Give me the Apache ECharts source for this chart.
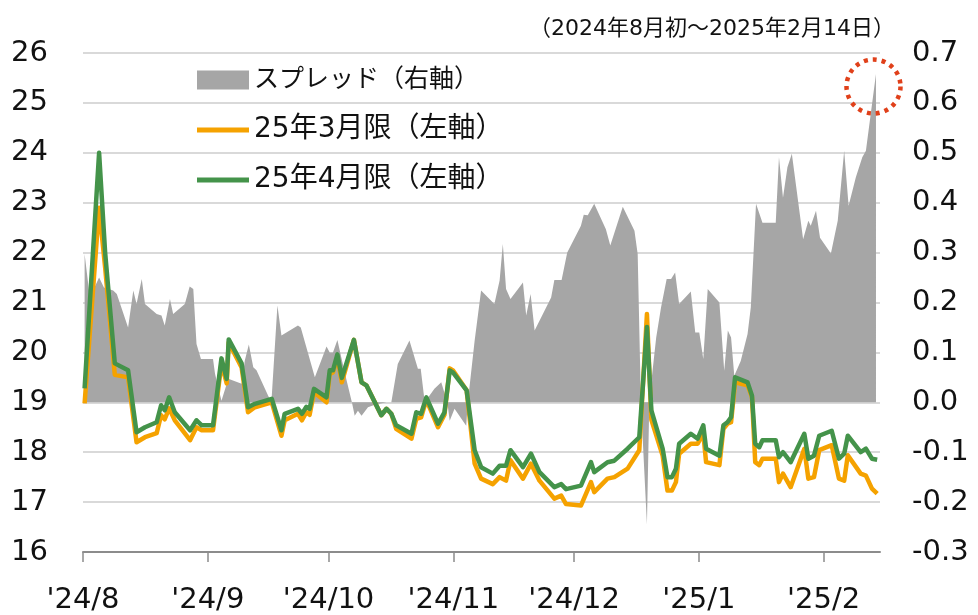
<!DOCTYPE html>
<html>
<head>
<meta charset="utf-8">
<script src="https://cdn.jsdelivr.net/npm/echarts@6/dist/echarts.min.js"></script>
<style>
  html, body { margin: 0; padding: 0; background: #fff; }
  #chart { width: 978px; height: 615px; }
</style>
</head>
<body>
<div id="chart"></div>
<script>
// x values are days counted from 2024-08-01
const monthDays = [0, 31, 61, 92, 122, 153, 184];
const monthLabels = ["'24/8", "'24/9", "'24/10", "'24/11", "'24/12", "'25/1", "'25/2"];

const lineDays = [
  0.4, 4.0, 5.5, 7.9, 11.2, 13.3, 15.4, 18.3, 19.4, 20.3, 21.4, 22.8, 26.6, 28.2, 29.5, 32.3,
  34.4, 35.7, 36.2, 39.4, 41.0, 42.7, 46.9, 49.3, 50.1, 53.4, 54.4, 55.5, 56.3, 57.4, 60.5, 61.3,
  62.1, 63.2, 64.3, 67.3, 69.2, 70.4, 74.1, 75.4, 76.6, 77.8, 81.6, 82.8, 84.0, 85.3, 88.2, 89.8,
  91.1, 91.9, 95.3, 97.3, 98.9, 101.8, 103.5, 105.1, 106.2, 109.3, 111.3, 113.4, 117.1, 118.8, 120.0, 123.7,
  126.2, 127.0, 130.3, 132.0, 135.3, 138.2, 140.1, 141.2, 144.0, 145.2, 146.3, 147.3, 148.1, 151.0, 152.7, 154.1,
  154.8, 158.1, 159.1, 160.1, 161.0, 162.0, 165.1, 166.2, 167.0, 168.0, 168.8, 172.1, 172.9, 173.9, 175.8, 179.2,
  180.2, 181.6, 182.9, 186.0, 187.8, 189.1, 190.0, 193.2, 194.5, 196.0, 197.3
];
const mar25 = [
  18.98, 22.9, 21.7, 19.55, 19.5, 18.2, 18.3, 18.38, 18.74, 18.66, 18.88, 18.64, 18.24, 18.5, 18.44, 18.44,
  19.78, 19.38, 20.2, 19.7, 18.8, 18.9, 19.0, 18.33, 18.64, 18.77, 18.64, 18.8, 18.75, 19.2, 19.0, 19.57,
  19.6, 19.9, 19.4, 20.25, 19.4, 19.34, 18.74, 18.87, 18.77, 18.47, 18.27, 18.67, 18.7, 19.05, 18.5, 18.75,
  19.68, 19.64, 19.24, 17.77, 17.47, 17.36, 17.5, 17.43, 17.84, 17.47, 17.77, 17.43, 17.07, 17.13, 16.96, 16.93,
  17.4, 17.2, 17.47, 17.5, 17.67, 18.04, 20.77, 18.65, 17.93, 17.23, 17.23, 17.4, 17.97, 18.17, 18.17, 18.37,
  17.8, 17.74, 18.47, 18.57, 18.6, 19.4, 19.34, 19.1, 17.8, 17.74, 17.87, 17.87, 17.4, 17.57, 17.3, 18.07,
  17.47, 17.5, 18.04, 18.14, 17.47, 17.43, 17.94, 17.57, 17.53, 17.27, 17.17
];
const apr25 = [
  19.28, 24.0, 22.0, 19.78, 19.64, 18.4, 18.5, 18.6, 18.94, 18.84, 19.1, 18.8, 18.44, 18.64, 18.54, 18.54,
  19.88, 19.47, 20.26, 19.78, 18.9, 18.97, 19.07, 18.44, 18.77, 18.87, 18.77, 18.91, 18.87, 19.27, 19.1, 19.64,
  19.64, 19.96, 19.49, 20.25, 19.4, 19.34, 18.74, 18.87, 18.77, 18.54, 18.37, 18.8, 18.77, 19.1, 18.57, 18.8,
  19.64, 19.6, 19.24, 18.04, 17.7, 17.57, 17.73, 17.73, 18.04, 17.7, 17.97, 17.6, 17.3, 17.36, 17.26, 17.33,
  17.8, 17.6, 17.8, 17.83, 18.07, 18.3, 20.51, 18.84, 18.07, 17.5, 17.5, 17.67, 18.17, 18.37, 18.27, 18.54,
  18.07, 17.93, 18.54, 18.6, 18.7, 19.5, 19.4, 19.13, 18.17, 18.1, 18.24, 18.24, 17.9, 18.0, 17.8, 18.37,
  17.87, 17.93, 18.33, 18.43, 17.87, 17.97, 18.33, 18.0, 18.07, 17.87, 17.85
];

const spreadDays = [
  0.4, 1.7, 4.0, 5.2, 7.5, 8.4, 11.2, 12.5, 13.3, 14.6, 15.4, 18.3, 19.5, 20.3, 21.6, 22.4,
  25.3, 26.5, 27.4, 28.2, 29.3, 32.3, 32.8, 34.4, 36.1, 39.4, 40.2, 41.2, 42.3, 43.1, 46.0, 46.8,
  48.3, 49.3, 53.4, 54.1, 57.6, 60.5, 61.3, 62.1, 63.2, 65.0, 66.8, 67.5, 68.3, 69.2, 70.8, 72.5,
  75.4, 76.6, 78.2, 81.1, 83.2, 83.9, 84.9, 87.3, 89.0, 90.5, 91.1, 92.3, 95.2, 95.6, 97.3, 98.9,
  102.2, 103.5, 104.3, 105.1, 106.2, 109.3, 110.1, 111.2, 112.2, 116.3, 117.1, 118.9, 120.3, 123.7, 124.4, 125.4,
  127.0, 129.9, 131.0, 134.1, 137.0, 137.8, 138.6, 140.1, 140.7, 142.4, 143.6, 145.0, 146.1, 147.1, 148.1, 151.0,
  152.1, 153.1, 154.1, 155.2, 158.1, 159.3, 160.2, 161.0, 161.8, 163.4, 165.1, 165.9, 167.2, 168.8, 172.1, 172.9,
  173.9, 175.0, 176.1, 178.9, 180.2, 180.8, 182.1, 183.1, 185.8, 187.5, 189.1, 190.2, 192.0, 193.6, 194.5, 197.0
];
const spread = [
  0.297, 0.21, 0.25, 0.23, 0.224, 0.217, 0.15, 0.224, 0.197, 0.247, 0.197, 0.177, 0.174, 0.154, 0.207, 0.177,
  0.197, 0.232, 0.227, 0.117, 0.087, 0.087, 0.057, 0.003, 0.047, 0.037, 0.084, 0.116, 0.07, 0.064, 0.013, 0.0,
  0.194, 0.134, 0.154, 0.15, 0.05, 0.112, 0.1, 0.1, 0.125, 0.06, 0.0, -0.027, -0.017, -0.027, -0.01, -0.005,
  0.0, 0.0, 0.077, 0.124, 0.067, 0.067, 0.0, 0.027, 0.04, 0.0, -0.037, -0.013, -0.047, 0.0, 0.124, 0.224,
  0.197, 0.244, 0.317, 0.227, 0.207, 0.24, 0.174, 0.217, 0.144, 0.21, 0.245, 0.245, 0.3, 0.354, 0.376, 0.375,
  0.398, 0.347, 0.314, 0.392, 0.344, 0.297, 0.0, -0.245, 0.005, 0.13, 0.19, 0.247, 0.247, 0.26, 0.197, 0.222,
  0.14, 0.14, 0.087, 0.227, 0.2, 0.063, 0.144, 0.13, 0.053, 0.083, 0.137, 0.19, 0.398, 0.36, 0.36, 0.491,
  0.41, 0.471, 0.498, 0.327, 0.364, 0.354, 0.384, 0.33, 0.298, 0.364, 0.504, 0.394, 0.451, 0.491, 0.504, 0.658
];

const chart = echarts.init(document.getElementById('chart'));

const pairs = (xs, ys) => xs.map((x, i) => [x, ys[i]]);
const labelFont = {fontSize: 29, color: '#111', fontFamily: 'DejaVu Sans'};
const mixFont = "'DejaVu Sans', 'Noto Sans CJK JP'";
const lineIcon = 'path://M0,0H52V5H0Z';

chart.setOption({
  animation: false,
  title: {
    text: '（2024年8月初～2025年2月14日）',
    right: 78,
    top: 13,
    textStyle: {fontSize: 22, fontWeight: 'normal', color: '#111', fontFamily: mixFont}
  },
  legend: {
    orient: 'vertical',
    left: 192,
    top: 59,
    itemWidth: 52,
    itemHeight: 19,
    itemGap: 18,
    symbolKeepAspect: true,
    textStyle: {fontSize: 28, color: '#111', fontFamily: mixFont, lineHeight: 32},
    data: [
      {name: 'スプレッド（右軸）', icon: 'rect', textStyle: {fontSize: 25}},
      {name: '25年3月限（左軸）', icon: lineIcon},
      {name: '25年4月限（左軸）', icon: lineIcon}
    ]
  },
  grid: {left: 83, right: 98, top: 53, bottom: 63},
  xAxis: {
    type: 'value',
    min: 0,
    max: 198,
    splitLine: {show: false},
    axisLine: {show: true, onZero: false, lineStyle: {color: '#8c8c8c', width: 2}},
    axisTick: {show: true, customValues: monthDays, length: 10, lineStyle: {color: '#8c8c8c', width: 1.5}},
    axisLabel: {
      customValues: monthDays,
      margin: 34,
      ...labelFont,
      formatter: v => monthLabels[monthDays.indexOf(v)]
    }
  },
  yAxis: [
    {
      type: 'value',
      min: 16,
      max: 26,
      interval: 1,
      axisLine: {show: false},
      axisTick: {show: false},
      axisLabel: {margin: 35, ...labelFont},
      splitLine: {lineStyle: {color: '#d9d9d9', width: 2}}
    },
    {
      type: 'value',
      min: -0.3,
      max: 0.7,
      interval: 0.1,
      axisLine: {show: false},
      axisTick: {show: false},
      splitLine: {show: false},
      axisLabel: {margin: 32, ...labelFont, formatter: v => v.toFixed(1)}
    }
  ],
  series: [
    {
      name: 'スプレッド（右軸）',
      type: 'line',
      yAxisIndex: 1,
      data: pairs(spreadDays, spread),
      symbol: 'none',
      lineStyle: {width: 0},
      itemStyle: {color: '#a6a6a6'},
      areaStyle: {color: '#a6a6a6', opacity: 1},
      z: 1
    },
    {
      name: '25年3月限（左軸）',
      type: 'line',
      data: pairs(lineDays, mar25),
      symbol: 'none',
      itemStyle: {color: '#f5a200'},
      lineStyle: {color: '#f5a200', width: 4.5, join: 'round'},
      z: 2
    },
    {
      name: '25年4月限（左軸）',
      type: 'line',
      data: pairs(lineDays, apr25),
      symbol: 'none',
      itemStyle: {color: '#44934a'},
      lineStyle: {color: '#44934a', width: 4.5, join: 'round'},
      z: 3
    }
  ],
  graphic: [
    {
      type: 'circle',
      shape: {cx: 873.5, cy: 86.5, r: 27},
      style: {fill: 'none', stroke: '#e0401a', lineWidth: 4.5, lineDash: [4, 5]},
      z: 10
    }
  ]
});
</script>
</body>
</html>
